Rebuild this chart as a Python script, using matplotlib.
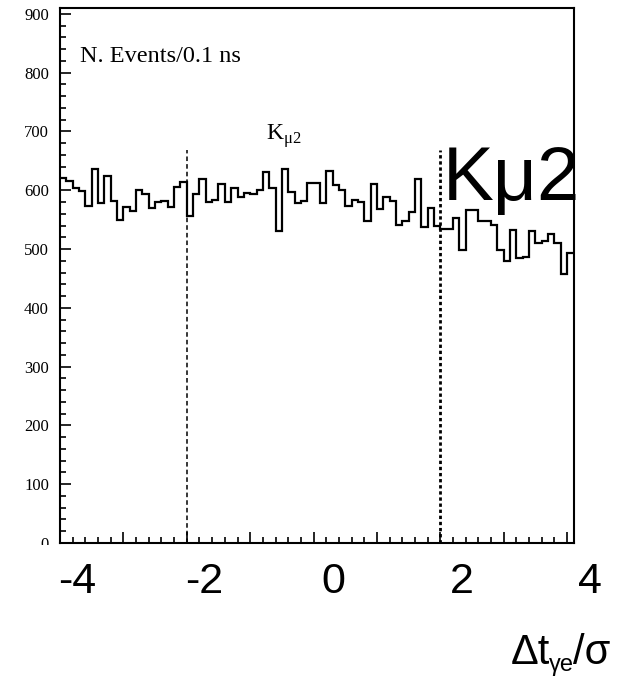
import matplotlib
matplotlib.use("Agg")
import matplotlib.pyplot as plt
import numpy as np
from matplotlib.patches import Rectangle

# ---- data ----
x_start = -4.0
bin_width = 0.1
counts = [621, 616, 603, 599, 573, 636, 578, 625, 582, 550,
          571, 565, 601, 594, 569, 580, 581, 572, 606, 614,
          556, 594, 619, 580, 584, 610, 580, 604, 589, 596,
          594, 601, 631, 603, 531, 636, 597, 579, 581, 612,
          613, 578, 633, 609, 601, 574, 584, 580, 547, 611,
          568, 588, 582, 541, 548, 563, 619, 537, 569, 540,
          534, 534, 552, 498, 567, 567, 548, 548, 541, 498,
          480, 532, 484, 486, 530, 510, 513, 525, 511, 457,
          493]
cut_positions = [-2.0, 2.0]
cut_top = 668
y_ticks = [0, 100, 200, 300, 400, 500, 600, 700, 800, 900]
x_tick_labels = ["-4", "-2", "0", "2", "4"]

edges = x_start + bin_width * np.arange(len(counts) + 1)

W, H = 618, 677
fig = plt.figure(figsize=(W / 100, H / 100), dpi=100)
ax = fig.add_axes([60 / W, 1 - 543 / H, (573.5 - 60) / W, (543 - 8) / H])

ax.stairs(counts, edges, baseline=None, color="black", lw=1.6)

ax.plot([cut_positions[0]] * 2, [0, cut_top], color="black", lw=1.1,
        linestyle=(0, (3, 2)))
ax.plot([cut_positions[1]] * 2, [0, cut_top], color="black", lw=2.0,
        linestyle=(0, (1.2, 1.0)))

ax.set_xlim(-4.0, 4.1)
ax.set_ylim(0, 910)

for s in ax.spines.values():
    s.set_linewidth(1.5)

ax.set_yticks(y_ticks)
ax.set_yticks(np.arange(0, 901, 20), minor=True)
ax.set_xticks(np.arange(-3, 5, 1))
ax.set_xticks(np.arange(-4, 4.1, 0.2), minor=True)
ax.tick_params(axis="both", which="both", direction="in", width=1.2,
               top=False, right=False)
ax.tick_params(axis="both", which="major", length=8)
ax.tick_params(axis="both", which="minor", length=4)
ax.tick_params(axis="x", labelbottom=False)
ax.tick_params(axis="y", pad=8)
for lab in ax.get_yticklabels():
    lab.set_fontfamily("Liberation Serif")
    lab.set_fontsize(12)

# white cover that hides the lower part of the "0" label
fig.patches.append(Rectangle((0, 0), 57 / W, 1 - 544.5 / H, transform=fig.transFigure,
                             facecolor="white", edgecolor="none", zorder=5))

# texts
fig.text(80 / W, 1 - 62 / H, "N. Events/0.1 ns", fontfamily="Liberation Serif",
         fontsize=17.5, ha="left", va="baseline", zorder=6)
fig.text(266 / W, 1 - 140 / H, r"K$_{\mathregular{\mu 2}}$",
         fontfamily="Liberation Serif", fontsize=17, ha="left", va="baseline", zorder=6)
fig.text(443 / W, 1 - 200 / H, "Kμ2", fontfamily="Liberation Sans",
         fontsize=55, ha="left", va="baseline", zorder=6)

label_x = [77, 204, 333, 462, 590]
for lx, lab in zip(label_x, x_tick_labels):
    fig.text(lx / W, 1 - 582 / H, lab, fontfamily="Liberation Sans", fontsize=31,
             ha="center", va="center", zorder=6)

# x-axis title built from pieces: "Δt", subscript "γe", "/σ"
renderer = fig.canvas.get_renderer()
pieces = [("Δt", 30, 664), ("γe", 17, 671), ("/σ", 30, 664)]
tmp = []
for s, fs, base in pieces:
    t = fig.text(0, 0, s, fontfamily="Liberation Sans", fontsize=fs,
                 ha="left", va="baseline")
    tmp.append(t.get_window_extent(renderer).width)
    t.remove()
x_cursor = 611 - sum(tmp) + 1
for (s, fs, base), w in zip(pieces, tmp):
    fig.text(x_cursor / W, 1 - base / H, s, fontfamily="Liberation Sans",
             fontsize=fs, ha="left", va="baseline", zorder=6)
    x_cursor += w - 1

fig.savefig("out.png", dpi=100)
